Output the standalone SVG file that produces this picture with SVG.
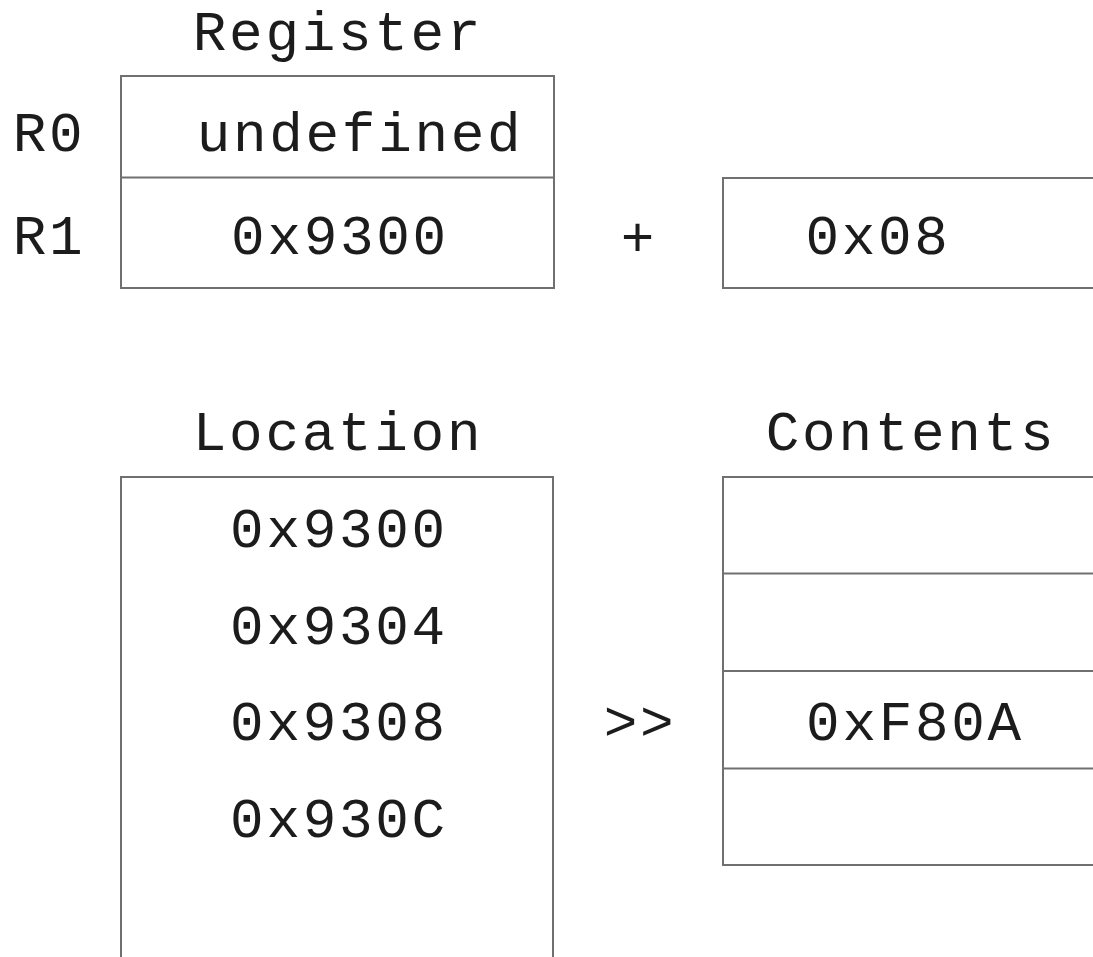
<svg xmlns="http://www.w3.org/2000/svg" width="1093" height="957" viewBox="0 0 1093 957">
<style>
.box{fill:#fff;stroke:#707070;stroke-width:2}
.ln{stroke:#707070;stroke-width:2}
.t{font-family:"Liberation Mono","DejaVu Sans Mono",monospace;font-size:56px;letter-spacing:2.7px;fill:#1c1c1c;text-anchor:middle}
</style>
<rect width="1093" height="957" fill="#fff"/>
<g id="register">
<text class="t" x="338" y="50">Register</text>
<rect class="box" x="121" y="76" width="433" height="212"/>
<line class="ln" x1="121" y1="177.5" x2="554" y2="177.5"/>
<text class="t" x="49" y="151">R0</text>
<text class="t" x="360" y="151">undefined</text>
<text class="t" x="49" y="254">R1</text>
<text class="t" x="340" y="254">0x9300</text>
</g>
<g id="plus"><text class="t" x="639" y="256">+</text></g>
<g id="offset">
<rect class="box" x="723" y="178" width="380" height="110"/>
<text class="t" x="878" y="254">0x08</text>
</g>
<g id="location">
<text class="t" x="338" y="450">Location</text>
<rect class="box" x="121" y="477" width="432" height="500"/>
<text class="t" x="339" y="547">0x9300</text>
<text class="t" x="339" y="643.5">0x9304</text>
<text class="t" x="339" y="740">0x9308</text>
<text class="t" x="339" y="836.5">0x930C</text>
</g>
<g id="shift"><text class="t" x="640" y="740">&gt;&gt;</text></g>
<g id="contents">
<text class="t" x="911" y="450">Contents</text>
<rect class="box" x="723" y="477" width="380" height="388"/>
<line class="ln" x1="723" y1="573.5" x2="1093" y2="573.5"/>
<line class="ln" x1="723" y1="671" x2="1093" y2="671"/>
<line class="ln" x1="723" y1="768.5" x2="1093" y2="768.5"/>
<text class="t" x="915" y="740">0xF80A</text>
</g>
<g id="connectors"></g>
</svg>
